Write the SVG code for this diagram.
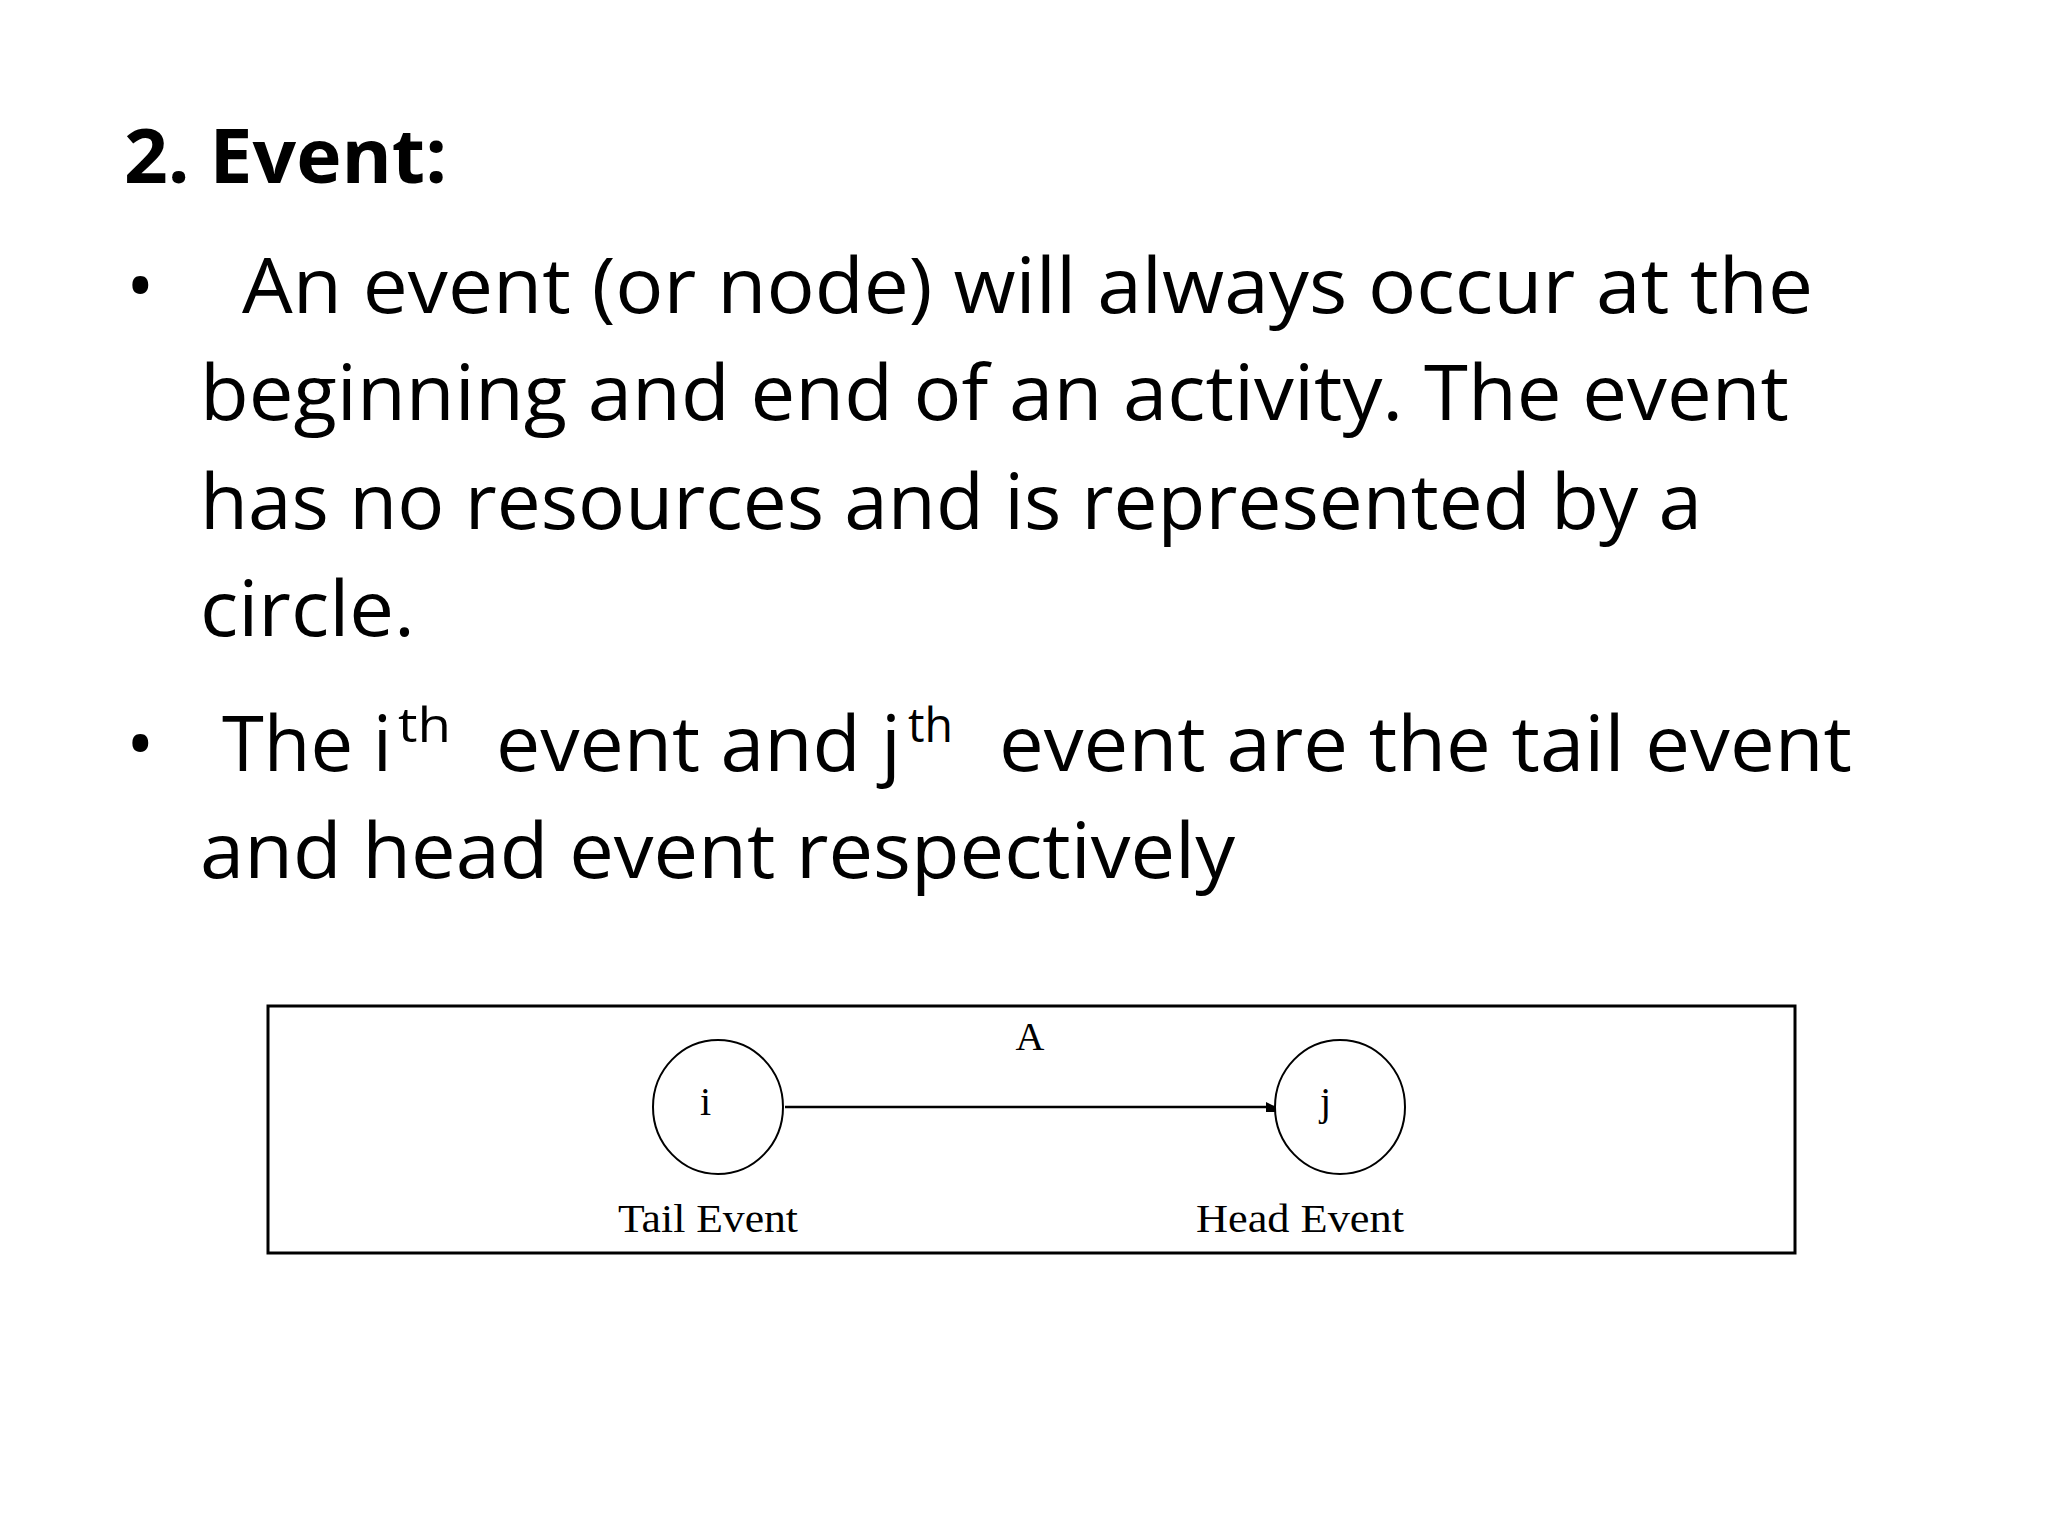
<svg xmlns="http://www.w3.org/2000/svg" width="2048" height="1536" viewBox="0 0 2048 1536">
<style>
.b{font-family:"Open Sans","Liberation Sans",sans-serif;font-size:76px;fill:#000}
.s{font-family:"Open Sans","Liberation Sans",sans-serif;font-size:48px;fill:#000}
.d{font-family:"Liberation Serif",serif;font-size:40px;fill:#000}
.n{fill:#fff;stroke:#000;stroke-width:2}
</style>
<defs><marker id="ah" markerWidth="10" markerHeight="10" refX="9" refY="5" orient="auto" markerUnits="userSpaceOnUse"><path d="M0,0 L10,5 L0,10 Z" fill="#000" transform="scale(3)" /></marker></defs>
<rect width="2048" height="1536" fill="#fff"/>
<text x="124" y="183" class="b" font-weight="bold" textLength="323" lengthAdjust="spacingAndGlyphs">2. Event:</text>
<text x="126" y="313" class="b">•</text>
<text x="242" y="313" class="b" textLength="1571" lengthAdjust="spacingAndGlyphs">An event (or node) will always occur at the</text>
<text x="200" y="420" class="b" textLength="1589" lengthAdjust="spacingAndGlyphs">beginning and end of an activity. The event</text>
<text x="200" y="529" class="b" textLength="1502" lengthAdjust="spacingAndGlyphs">has no resources and is represented by a</text>
<text x="200" y="636" class="b" textLength="215" lengthAdjust="spacingAndGlyphs">circle.</text>
<text x="126" y="771" class="b">•</text>
<text x="222" y="771" class="b" textLength="170" lengthAdjust="spacingAndGlyphs">The i</text>
<text x="398" y="742" class="s" textLength="53" lengthAdjust="spacingAndGlyphs">th</text>
<text x="496" y="771" class="b" textLength="405" lengthAdjust="spacingAndGlyphs">event and j</text>
<text x="908" y="742" class="s" textLength="45" lengthAdjust="spacingAndGlyphs">th</text>
<text x="999" y="771" class="b" textLength="853" lengthAdjust="spacingAndGlyphs">event are the tail event</text>
<text x="200" y="878" class="b" textLength="1035" lengthAdjust="spacingAndGlyphs">and head event respectively</text>
<rect x="268" y="1006" width="1527" height="247" fill="none" stroke="#000" stroke-width="3"/>
<g id="connectors">
<line x1="785" y1="1107" x2="1275" y2="1107" stroke="#000" stroke-width="2.5" marker-end="url(#ah)"/>
<text x="1030" y="1050" class="d" text-anchor="middle">A</text>
</g>
<g id="node-i">
<ellipse cx="718" cy="1107" rx="65" ry="67" class="n"/>
<text x="700" y="1115" class="d" font-size="34">i</text>
<text x="708" y="1232" class="d" text-anchor="middle" textLength="180" lengthAdjust="spacingAndGlyphs">Tail Event</text>
</g>
<g id="node-j">
<ellipse cx="1340" cy="1107" rx="65" ry="67" class="n"/>
<text x="1320" y="1115" class="d" font-size="34">j</text>
<text x="1300" y="1232" class="d" text-anchor="middle" textLength="208" lengthAdjust="spacingAndGlyphs">Head Event</text>
</g>
</svg>
